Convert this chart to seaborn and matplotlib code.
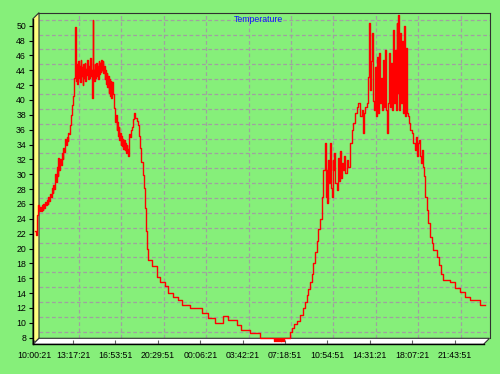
import matplotlib
matplotlib.use("Agg")
import matplotlib.pyplot as plt
from matplotlib.patches import Polygon
import pandas as pd
import seaborn as sns

tick_labels = ["10:00:21", "13:17:21", "16:53:51", "20:29:51", "00:06:21", "03:42:21",
               "07:18:51", "10:54:51", "14:31:21", "18:07:21", "21:43:51"]
y_ticks = list(range(8, 51, 2))

# hours since 10:00:21 / temperature
day1_h = [0.08, 0.16, 0.25, 0.33, 0.42, 0.48, 0.56, 0.62, 0.70, 0.76,
          0.84, 0.90, 0.99, 1.04, 1.13, 1.18, 1.27, 1.33, 1.41, 1.47,
          1.55, 1.61, 1.69, 1.75, 1.84, 1.89, 1.98, 2.03, 2.12, 2.18,
          2.26, 2.32, 2.40, 2.46, 2.55, 2.60, 2.68, 2.74, 2.83, 2.88,
          2.97, 3.03, 3.11, 3.20, 3.25, 3.31, 3.37, 3.42, 3.45, 3.48,
          3.51, 3.54, 3.59, 3.65, 3.71, 3.76, 3.82, 3.87, 3.93, 3.99,
          4.05, 4.10, 4.16, 4.22, 4.27, 4.33, 4.39, 4.45, 4.50, 4.56,
          4.61, 4.67, 4.73, 4.78, 4.84, 4.90, 4.92, 4.95, 4.98, 5.01,
          5.07, 5.12, 5.18, 5.24, 5.30, 5.35, 5.41, 5.46, 5.52, 5.58,
          5.63, 5.69, 5.75, 5.80, 5.86, 5.92, 5.97, 6.03, 6.09, 6.14,
          6.20, 6.26, 6.31, 6.37, 6.43, 6.48, 6.54, 6.60, 6.65, 6.71,
          6.80, 6.88, 6.93, 6.99, 7.05, 7.11, 7.16, 7.22, 7.28, 7.33,
          7.39, 7.45, 7.50, 7.56, 7.62, 7.67, 7.73, 7.79, 7.84, 7.90,
          7.96, 8.01, 8.07, 8.13, 8.18, 8.27, 8.35, 8.41, 8.49, 8.58,
          8.70, 8.78, 8.86, 8.98, 9.09, 9.20, 9.32, 9.43, 9.51, 9.57]
day1_t = [22.3, 21.8, 24.5, 25.9, 25.0, 25.6, 25.0, 25.9, 25.2, 26.0,
          25.4, 26.3, 25.8, 26.6, 26.0, 27.0, 26.4, 27.4, 27.0, 28.2,
          27.5, 28.6, 28.0, 30.0, 29.0, 31.0, 29.8, 32.2, 30.6, 32.0,
          31.2, 32.8, 32.0, 33.6, 33.0, 34.8, 34.0, 35.0, 34.5, 35.6,
          35.4, 36.6, 38.0, 39.3, 40.0, 40.5, 43.0, 45.4, 44.0, 49.8,
          44.5, 42.5, 44.8, 42.2, 45.2, 43.0, 44.6, 42.4, 45.4, 43.2,
          44.4, 42.0, 44.8, 43.0, 45.0, 42.6, 44.2, 43.4, 45.4, 42.8,
          44.6, 43.0, 45.6, 43.2, 44.0, 42.0, 40.2, 43.5, 50.8, 44.0,
          42.5, 44.8, 43.0, 45.0, 43.2, 44.6, 42.8, 45.2, 43.5, 45.0,
          43.8, 45.4, 44.0, 45.2, 43.6, 44.6, 42.8, 44.0, 42.2, 43.6,
          41.8, 43.2, 41.0, 42.8, 40.6, 42.6, 40.2, 42.4, 41.0, 40.8,
          38.9, 37.1, 38.0, 36.0, 37.0, 35.2, 36.4, 34.6, 35.6, 34.0,
          35.2, 33.8, 34.8, 33.4, 34.6, 33.2, 34.2, 32.8, 34.0, 33.4,
          32.4, 34.4, 35.4, 35.0, 36.0, 36.4, 37.0, 37.4, 38.2, 37.6,
          37.2, 36.6, 35.2, 33.5, 31.7, 29.9, 28.1, 25.4, 22.3, 20.0]

night_h = [9.66, 9.97, 10.40, 10.68, 11.10, 11.38, 11.81, 12.23, 12.52, 13.23,
           14.22, 14.78, 15.35, 16.06, 16.48, 17.20, 17.56, 18.29, 19.14, 20.36,
           20.44, 20.52, 20.60, 20.68, 20.76, 20.84, 20.92, 21.00, 21.08, 21.13,
           21.20]
night_t = [18.5, 17.6, 16.2, 15.5, 14.9, 14.0, 13.5, 13.1, 12.4, 12.0,
           11.3, 10.6, 10.0, 10.9, 10.4, 9.7, 9.1, 8.6, 8.0, 7.5,
           8.0, 7.5, 8.0, 7.5, 8.0, 7.5, 8.0, 7.5, 8.0, 7.6,
           8.0]

day2_h = [21.73, 21.90, 22.07, 22.29, 22.58, 22.86, 23.00, 23.14, 23.28, 23.43,
          23.57, 23.71, 23.85, 23.99, 24.13, 24.29, 24.42, 24.56, 24.70, 24.79,
          24.85, 24.90, 24.98, 25.07, 25.13, 25.21, 25.27, 25.36, 25.41, 25.49,
          25.58, 25.70, 25.78, 25.87, 25.98, 26.06, 26.15, 26.26, 26.34, 26.43,
          26.55, 26.68, 26.83, 26.97, 27.11, 27.25, 27.39, 27.53, 27.68, 27.82,
          27.90, 28.02, 28.10, 28.24, 28.33, 28.38, 28.47, 28.53, 28.61, 28.70,
          28.78, 28.87, 28.95, 29.04, 29.12, 29.21, 29.29, 29.38, 29.46, 29.55,
          29.63, 29.72, 29.80, 29.89, 29.97, 30.05, 30.14, 30.22, 30.28, 30.37,
          30.45, 30.54, 30.62, 30.71, 30.79, 30.85, 30.91, 30.96, 31.05, 31.13,
          31.22, 31.30, 31.39, 31.47, 31.56, 31.64, 31.73, 31.81, 31.92, 32.07,
          32.21, 32.35, 32.43, 32.49, 32.61, 32.69, 32.78, 32.83, 32.92, 33.00,
          33.12, 33.20, 33.34, 33.48, 33.63, 33.77, 33.91, 34.19, 34.42]
day2_t = [8.8, 9.3, 9.8, 10.3, 11.0, 12.0, 12.8, 13.8, 14.6, 15.5,
          16.6, 18.0, 19.6, 21.0, 22.6, 24.0, 27.0, 30.6, 34.2, 27.0,
          30.6, 26.1, 31.9, 28.8, 34.2, 28.1, 27.0, 31.9, 30.6, 32.8,
          28.8, 27.9, 32.2, 29.1, 33.1, 29.5, 31.5, 30.6, 32.4, 30.2,
          31.9, 31.0, 34.2, 35.9, 36.9, 38.2, 39.1, 39.6, 37.8, 38.7,
          35.5, 38.2, 39.1, 39.6, 41.0, 43.1, 50.3, 41.3, 45.2, 49.0,
          39.9, 38.7, 44.5, 37.8, 45.8, 38.2, 46.3, 39.6, 43.0, 38.7,
          45.4, 39.1, 46.7, 38.7, 35.5, 39.6, 46.3, 39.1, 45.0, 38.7,
          49.4, 39.6, 46.7, 38.7, 50.3, 40.9, 51.4, 38.7, 49.0, 39.6,
          47.9, 38.2, 49.9, 37.8, 47.0, 38.2, 37.8, 36.9, 36.0, 35.5,
          34.2, 33.3, 35.0, 32.4, 34.2, 34.6, 32.4, 31.5, 33.3, 31.0,
          29.7, 27.0, 25.2, 23.4, 21.6, 20.7, 19.8, 18.9, 17.8]

eve_h = [34.59, 34.76, 35.33, 35.75, 36.18, 36.60, 37.02, 37.87, 38.30]
eve_t = [16.6, 15.8, 15.5, 14.7, 14.2, 13.5, 13.1, 12.4, 12.4]

df = pd.DataFrame({"hours": day1_h + night_h + day2_h + eve_h,
                   "temp": day1_t + night_t + day2_t + eve_t})


def to_hours(labels):
    out, day = [], 0
    h0, m0, s0 = map(int, labels[0].split(":"))
    start = h0 + m0 / 60 + s0 / 3600
    for s in labels:
        h, m, sec = map(int, s.split(":"))
        v = h + m / 60 + sec / 3600 - start + 24 * day
        if out and v < out[-1]:
            day += 1
            v += 24
        out.append(v)
    return out


tick_pos = to_hours(tick_labels)

plt.rcParams["font.family"] = ["Liberation Sans", "DejaVu Sans"]
bg = "#86ef7a"
W, H = 500, 374
fx0, fx1, fy0, fy1 = 33, 483.5, 18.7, 344.3   # front plane, pixels
d = 6                                         # 3d depth
xlim = (-0.12, 38.17)
ylim = (7.11, 50.94)

fig = plt.figure(figsize=(5, 3.74), dpi=100, facecolor=bg)


def box(x0, y0, x1, y1):
    return [x0 / W, 1 - y1 / H, (x1 - x0) / W, (y1 - y0) / H]


def pts(p):
    return [(x / W, 1 - y / H) for x, y in p]


# back wall with the grid
back = fig.add_axes(box(fx0 + d, fy0 - d, fx1 + d, fy1 - d))
back.set_facecolor(bg)
back.set_xlim(*xlim)
back.set_ylim(*ylim)
back.set_xticks(tick_pos[1:])
back.set_yticks(y_ticks)
back.tick_params(length=0, labelbottom=False, labelleft=False)
back.grid(True, color="#a0a0a0", linestyle=(0, (3, 2)), linewidth=0.9)
for s in ["left", "bottom"]:
    back.spines[s].set_visible(False)
for s in ["top", "right"]:
    back.spines[s].set_color("#303030")

# yellow side wall and white floor
fig.add_artist(Polygon(pts([(fx0, fy1), (fx0, fy0), (fx0 + d, fy0 - d), (fx0 + d, fy1 - d)]),
                       closed=True, transform=fig.transFigure, facecolor="#ffff80",
                       edgecolor="#303030", linewidth=0.8))
fig.add_artist(Polygon(pts([(fx0, fy1), (fx1, fy1), (fx1 + d, fy1 - d), (fx0 + d, fy1 - d)]),
                       closed=True, transform=fig.transFigure, facecolor="white",
                       edgecolor="#303030", linewidth=0.8))

# front plane with data and labels
ax = fig.add_axes(box(fx0, fy0, fx1, fy1))
ax.set_zorder(3)
ax.patch.set_visible(False)
sns.lineplot(data=df, x="hours", y="temp", ax=ax, color="#ff0000", linewidth=1.0,
             drawstyle="steps-post", estimator=None, clip_on=False)
ax.set_xlim(*xlim)
ax.set_ylim(*ylim)
ax.set_xticks(tick_pos)
ax.set_xticklabels(tick_labels)
ax.set_yticks(y_ticks)
ax.set_xlabel("")
ax.set_ylabel("")
ax.tick_params(axis="y", direction="out", length=3, width=0.8, pad=2, labelsize=6.3, colors="black")
ax.tick_params(axis="x", direction="in", length=3, width=0.8, pad=4.5, labelsize=6.3,
               color="#606060", labelcolor="black")
for s in ["top", "right"]:
    ax.spines[s].set_visible(False)
for s in ["left", "bottom"]:
    ax.spines[s].set_color("black")
    ax.spines[s].set_linewidth(1)

fig.text(258 / W, 1 - 20 / H, "Temperature", color="#1010ff", fontsize=6.3,
         ha="center", va="center")

fig.savefig("out.png", dpi=100, facecolor=bg)
